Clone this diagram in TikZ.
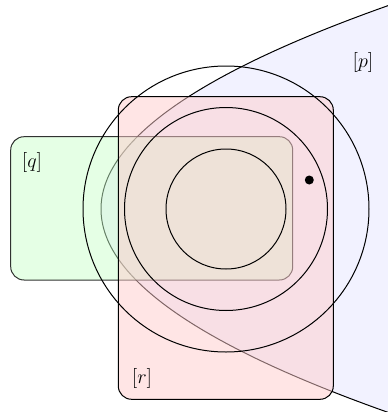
\documentclass[tikz,border=0pt]{standalone}
\begin{document}
\begin{tikzpicture}[x=0.6pt,y=-0.6pt,line width=0.6pt,
  regionp/.style={fill=blue!10,fill opacity=0.5},
  regionq/.style={draw,draw opacity=0.8,fill=green!20,fill opacity=0.5,rounded corners=8pt},
  regionr/.style={draw,fill=red!20,fill opacity=0.5,rounded corners=8pt},
  lab/.style={inner sep=0pt,font=\fontsize{12.5}{15}\selectfont}]
\useasboundingbox (0,0) rectangle (388,412);
\clip (0,0) rectangle (388,412);
\coordinate (c) at (226,209);
% region p
\fill[regionp] plot[domain=-2.15:2.15,samples=150] ({101+69.4*\x*\x},{209+100*\x}) -- cycle;
\draw plot[domain=-2.15:2.15,samples=150] ({101+69.4*\x*\x},{209+100*\x});
% region q
\path[regionq] (10.7,136.7) rectangle (292.7,280);
% region r
\path[regionr] (118.3,96.7) rectangle (333.3,399.3);
% circles
\draw (c) circle[radius=85.8pt];
\draw (c) circle[radius=60.9pt];
\draw (c) circle[radius=36pt];
\fill (309.3,180) circle[radius=2.7pt];
% labels
\node[lab] (lp) at (363,62) {$[p]$};
\node[lab] (lq) at (32,162) {$[q]$};
\node[lab] (lr) at (142,378) {$[r]$};
\end{tikzpicture}
\end{document}
